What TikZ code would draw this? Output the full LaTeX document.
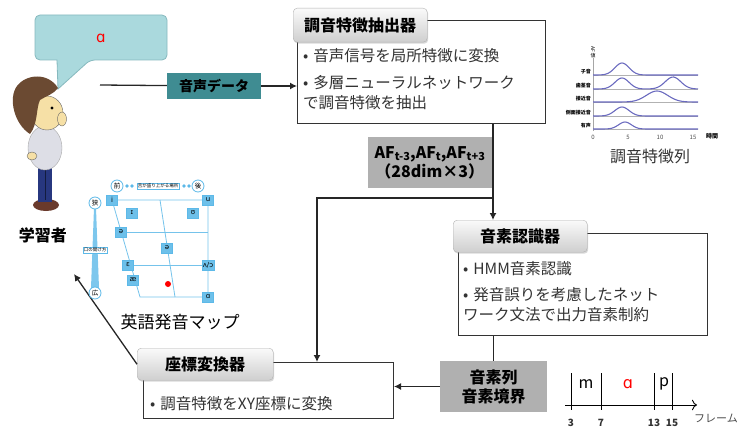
\documentclass[tikz,border=0pt]{standalone}
\usepackage{fontspec}
\setmainfont{Noto Sans CJK JP}
\newfontfamily\ipa{DejaVu Sans}
\usepackage{tikz}
\usetikzlibrary{calc}
\usetikzlibrary{shapes,arrows.meta,positioning,shadows}

\definecolor{bubble}{HTML}{AAD9DD}
\definecolor{bubbleline}{HTML}{86B9BE}
\definecolor{datateal}{HTML}{3F8C92}
\definecolor{mapblue}{HTML}{5DB9E8}
\definecolor{curveblue}{HTML}{6A6ABF}
\definecolor{hair}{HTML}{6B4A32}
\definecolor{skin}{HTML}{F6E0A6}
\definecolor{shirt}{HTML}{DDDEE6}
\definecolor{pants}{HTML}{27377F}
\definecolor{shoe}{HTML}{6A3A2C}

\tikzstyle{block} = [rectangle, draw=black!80, line width=1pt, fill=white, anchor=north west]
\tikzstyle{tab} = [rectangle, draw=gray!60, rounded corners=4pt, top color=gray!4, bottom color=gray!38,
    drop shadow={opacity=0.3,shadow xshift=1pt,shadow yshift=-1.5pt},
    font=\fontsize{16}{16}\selectfont\bfseries, anchor=north west]
\tikzstyle{body} = [align=left, anchor=north west, inner sep=0pt, font=\fontsize{15.5}{20}\selectfont, text=black!80]
\tikzstyle{result} = [rectangle, fill=gray!62, align=center, font=\fontsize{16}{19}\selectfont\bfseries]
\tikzstyle{line} = [draw=black!85, line width=1.3pt]
\tikzstyle{flow} = [line, -{Latex[length=7pt,width=7pt]}]
\tikzstyle{vowel} = [rectangle, fill=mapblue!90, draw=mapblue, inner sep=1pt,
    minimum width=11pt, minimum height=10pt, font=\ipa\fontsize{7}{7}\selectfont]
\tikzstyle{vaxis} = [circle, draw=mapblue, line width=0.8pt, fill=white, inner sep=0.5pt,
    minimum size=12pt, font=\fontsize{6.5}{6.5}\selectfont]
\tikzstyle{maptag} = [rectangle, draw=mapblue, fill=white, inner sep=1pt, font=\fontsize{4.5}{4.5}\selectfont]
\tikzstyle{mapline} = [draw=mapblue!85, line width=0.8pt]
\newcommand{\afidx}[1]{\raisebox{-0.25ex}{\fontsize{11}{11}\selectfont #1}}
\newcommand{\itm}{\textbullet\hspace{5pt}}

\begin{document}
\begin{tikzpicture}[x=1pt, y=-1pt]
\useasboundingbox (0,0) rectangle (742,428);

%Learner:
\draw[bubbleline, fill=bubble, line width=0.8pt, rounded corners=5pt]
    (35,15) -- (167,15) -- (167,60) -- (90,60) [sharp corners] -- (58,89) -- (57,60) [rounded corners=5pt] -- (35,60) -- cycle;
\node[text=red, font=\ipa\fontsize{15}{15}\selectfont] (bubble_a) at (101,38) {ɑ};
\fill[shoe] (46,205) ellipse (13 and 6);
\fill[pants] (38,165) rectangle (52,202);
\draw[pants!50!black, line width=0.6pt] (45,170) -- (45,200);
\filldraw[fill=shirt, draw=gray!70] (45,148) ellipse (17 and 22);
\filldraw[fill=skin, draw=black!60] (32,156) ellipse (5 and 4);
\filldraw[fill=skin, draw=black!60] (47,113) ellipse (16 and 17);
\fill[hair] (30,134) .. controls (14,124) and (8,98) .. (17,86) .. controls (26,74) and (48,72) .. (58,88)
    .. controls (54,94) and (46,96) .. (40,100) .. controls (36,108) and (38,124) .. (30,134) -- cycle;
\fill (52,108) circle (1.6);
\filldraw[fill=skin, draw=black!60] (62,119) ellipse (4.5 and 7);
\node[font=\fontsize{16}{16}\selectfont\bfseries] (learner) at (43,235) {学習者};

%Feature extractor:
\coordinate (voice) at (100,85);
\node[rectangle, fill=datateal, minimum width=94, minimum height=26,
    font=\fontsize{14}{14}\selectfont\bfseries] (audio) at (214,86) {音声データ};
\node[block, minimum width=248, minimum height=103] (FE) at (297,20) {};
\node[tab, minimum width=134, minimum height=34] (FE_t) at (293,8) {調音特徴抽出器};
\node[body] (FE_txt) at (303,48) {\itm 音声信号を局所特徴に変換\\[7pt]\itm 多層ニューラルネットワーク\\で調音特徴を抽出};
\draw[line] (voice) -- (audio);
\draw[flow] (audio) -- (audio -| FE.west);

%Phoneme recognizer:
\node[block, minimum width=249, minimum height=102] (PR) at (458,233) {};
\node[tab, minimum width=134, minimum height=32] (PR_t) at (453,220) {音素認識器};
\node[body] (PR_txt) at (463,261) {\itm HMM音素認識\\[6pt]\itm 発音誤りを考慮したネット\\ワーク文法で出力音素制約};
\coordinate (split) at (493,198);
\coordinate (branch) at (317,198);
\draw[flow] (FE.south -| split) -- (PR_t.north -| split);
\node[result, minimum width=124, minimum height=51, anchor=north east] (AF) at (492,137)
    {AF\afidx{t-3},AF\afidx{t},AF\afidx{t+3}\\（28dim×3）};

%Coordinate converter:
\node[result, minimum width=107, minimum height=51] (PS) at (493.5,386.5) {音素列\\音素境界};
\node[block, minimum width=250, minimum height=56] (CT) at (143,362) {};
\node[tab, minimum width=136, minimum height=32] (CT_t) at (137,348) {座標変換器};
\node[body] (CT_txt) at (150,396) {\itm 調音特徴をXY座標に変換};
\draw[flow] (split) -- (branch) -- (branch |- CT.north);
\draw[line] (PR.south -| PS.north) -- (PS.north);
\draw[flow] (PS.west) -- (CT.east |- PS.west);
\coordinate (learner_in) at (74,274);
\draw[flow] (CT_t.west) -- (learner_in);

%Pronunciation map:
\fill[mapblue!80] (94,208) -- (96,208) -- (99,288) -- (91,288) -- cycle;
\node[vaxis] (narrow) at (95,203) {狭};
\node[vaxis] (wide) at (95,293) {広};
\node[maptag] (mouth) at (95,250) {口の開け方};
\draw[mapline] (112,200) -- (208,200) -- (208,297) -- (140,297) -- cycle;
\draw[mapline] (160,200) -- (175,297);
\draw[mapline] (121,232) -- (208,232);
\draw[mapline] (131,265) -- (208,265);
\foreach \x in {127,132,184,189} \fill[mapblue] (\x,186) circle (1.8);
\node[vaxis] (front) at (117,186) {前};
\node[vaxis] (back) at (198,186) {後};
\node[maptag] (tongue) at (158,186) {舌が盛り上がる場所};
\node[vowel] (v_i) at (112,200) {i};
\node[vowel] (v_u) at (208,200) {u};
\node[vowel] (v_I) at (132,213) {ɪ};
\node[vowel] (v_U) at (193,213) {ʊ};
\node[vowel] (v_e) at (121,232) {ə};
\node[vowel] (v_schwa) at (167,248) {ə};
\node[vowel] (v_E) at (128,265) {ɛ};
\node[vowel] (v_V) at (208,265) {ʌ/ɔ};
\node[vowel] (v_ae) at (133,280) {æ};
\node[vowel] (v_a) at (208,297) {ɑ};
\fill[red] (168,284) circle (3);
\node[font=\fontsize{17}{17}\selectfont] (map_t) at (180,322) {英語発音マップ};

%Feature sequence:
\draw[gray!70, line width=0.6pt] (593,58) -- (593,131);
\node[font=\fontsize{5}{5}\selectfont, align=center, inner sep=0pt] (af_axis) at (593,52) {\rotatebox{-90}{AF}\\値};
\foreach \y/\n in {75/子音, 89/歯茎音, 102/接近音, 116/側面接近音, 129/有声} {
  \draw[gray!60, line width=0.6pt] (593,\y) -- (698,\y);
  \node[anchor=east, inner sep=1pt, font=\fontsize{5}{5}\selectfont\bfseries] at (592,\y-3) {\n};
}
\draw[curveblue, line width=1.1pt] plot[domain=593:698, samples=70] (\x, {75-12*exp(-((\x-622)/10)^2)});
\draw[curveblue, line width=1.1pt] plot[domain=593:698, samples=70] (\x, {89-11*exp(-((\x-622)/10)^2)-12*exp(-((\x-673)/11)^2)});
\draw[curveblue, line width=1.1pt] plot[domain=593:698, samples=70] (\x, {102-11*exp(-((\x-657)/15)^2)});
\draw[curveblue, line width=1.1pt] plot[domain=593:698, samples=70] (\x, {116-9*exp(-((\x-622)/10)^2)});
\draw[curveblue, line width=1.1pt] plot[domain=593:698, samples=70] (\x, {129-7*exp(-((\x-625)/9)^2)});
\foreach \x/\t in {593/0, 628/5, 660/10, 693/15}
  \node[font=\fontsize{6}{6}\selectfont, text=black!70] at (\x,137) {\t};
\node[font=\fontsize{6}{6}\selectfont\bfseries] (time) at (712,136) {時間};
\node[font=\fontsize{16}{16}\selectfont, text=black!80] (seq_t) at (650,156) {調音特徴列};

%Phoneme boundaries:
\draw[line width=0.9pt, -{To[length=5pt]}] (565,405) -- (697,405);
\foreach \x/\f in {571/3, 601/7, 654/13, 672/15} {
  \draw[line width=0.9pt] (\x,373) -- (\x,410);
  \node[font=\fontsize{10}{10}\selectfont\bfseries, text=black!80] at (\x,423) {\f};
}
\node[font=\fontsize{16}{16}\selectfont] (ph_m) at (586,384) {m};
\node[text=red, font=\ipa\fontsize{16}{16}\selectfont] (ph_a) at (628,384) {ɑ};
\node[font=\fontsize{16}{16}\selectfont] (ph_p) at (664,384) {p};
\node[font=\fontsize{11}{11}\selectfont, text=black!70] (frame) at (716,418) {フレーム};
\end{tikzpicture}
\end{document}
